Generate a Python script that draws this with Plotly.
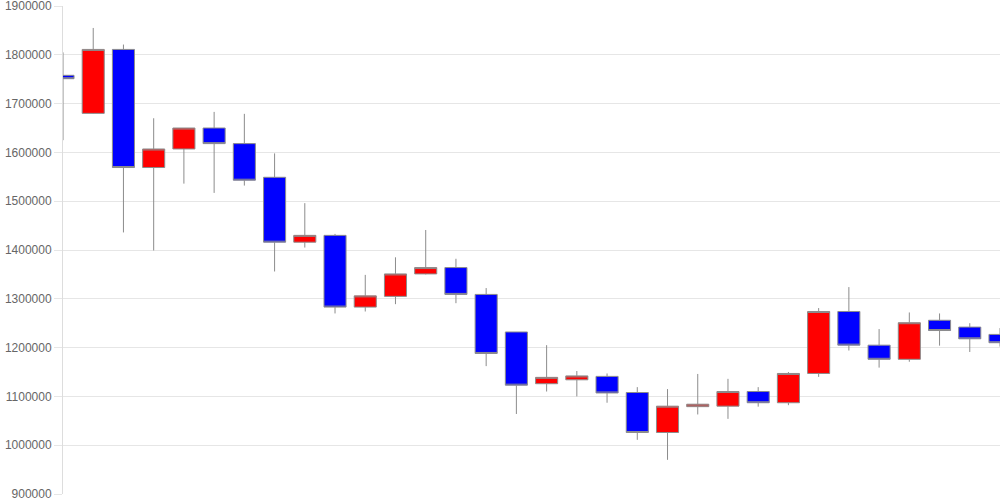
import plotly.graph_objects as go

days = list(range(32))
opens = [1758000, 1680000, 1811000, 1569000, 1607000, 1650000, 1618000, 1549000,
         1416000, 1430000, 1283000, 1305000, 1351000, 1364000, 1309000, 1232000,
         1126000, 1134000, 1141000, 1108000, 1026000, 1079000, 1080000, 1110000,
         1087000, 1147000, 1274000, 1205000, 1176000, 1256000, 1242000, 1227000]
highs = [1805000, 1855000, 1821000, 1670000, 1650000, 1683000, 1679000, 1598000,
         1496000, 1433000, 1349000, 1385000, 1441000, 1382000, 1322000, 1232000,
         1205000, 1152000, 1147000, 1119000, 1115000, 1146000, 1136000, 1119000,
         1150000, 1281000, 1324000, 1238000, 1272000, 1270000, 1250000, 1240000]
lows = [1625000, 1679000, 1436000, 1399000, 1536000, 1517000, 1532000, 1356000,
        1405000, 1270000, 1274000, 1289000, 1350000, 1291000, 1162000, 1064000,
        1110000, 1100000, 1087000, 1011000, 970000, 1063000, 1054000, 1079000,
        1082000, 1140000, 1194000, 1159000, 1171000, 1204000, 1191000, 1202000]
closes = [1751000, 1811000, 1569000, 1607000, 1650000, 1618000, 1543000, 1416000,
          1430000, 1283000, 1306000, 1351000, 1364000, 1309000, 1188000, 1123000,
          1139000, 1142000, 1107000, 1026000, 1080000, 1084000, 1110000, 1087000,
          1147000, 1274000, 1205000, 1176000, 1251000, 1235000, 1218000, 1210000]

fig = go.Figure(go.Candlestick(
    x=days, open=opens, high=highs, low=lows, close=closes,
    increasing=dict(fillcolor="#ff0000", line=dict(color="#8c8c8c", width=1)),
    decreasing=dict(fillcolor="#0000ff", line=dict(color="#8c8c8c", width=1)),
    showlegend=False, hoverinfo="x+y"
))

fig.update_layout(
    width=1000, height=500,
    margin={"l": 63, "r": 0, "t": 6, "b": 6},
    paper_bgcolor="white", plot_bgcolor="white",
    boxgap=0.27, boxgroupgap=0,
    font=dict(family="Liberation Sans, Arial, sans-serif", size=12, color="#666666"),
    xaxis=dict(range=[0, 31], showticklabels=False, showgrid=False, zeroline=False,
               rangeslider=dict(visible=False), showline=False, fixedrange=True),
    yaxis=dict(range=[900000, 1900000], dtick=100000, tickformat="d",
               showgrid=True, gridcolor="#e6e6e6", zeroline=False,
               showline=True, linecolor="#dddddd", linewidth=1,
               ticks="outside", ticklen=8, tickcolor="#e6e6e6", fixedrange=True,
               ticklabeloverflow="allow", automargin=False),
)

# page has a default 8px body margin; drop it so the chart sits at 0,0
fig.write_html("out.html", config={"displayModeBar": False},
               post_script="document.body.style.margin='0';")
